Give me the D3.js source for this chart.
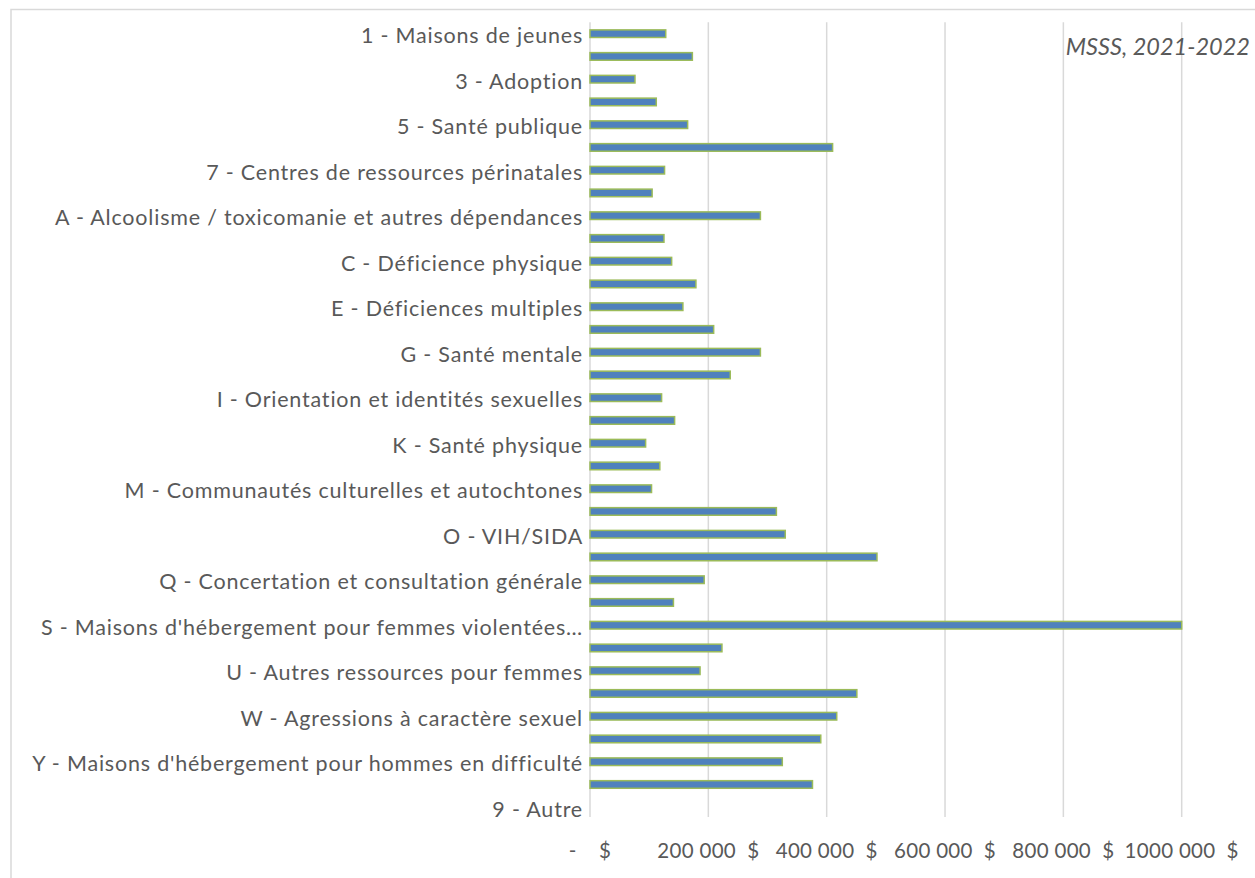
<!DOCTYPE html>
<html>
<head>
<meta charset="utf-8">
<script src="https://cdn.jsdelivr.net/npm/d3@7"></script>
<style>
  html, body { margin: 0; padding: 0; background: #ffffff; }
  svg { display: block; }
  text { font-family: Lato, "Open Sans", sans-serif; fill: #595959; }
</style>
</head>
<body>
<svg id="chart" width="1255" height="878"></svg>
<script>
// Categories (PSOC typology codes); only every other label fits on the axis
const categories = [
  "1 - Maisons de jeunes", "2", "3 - Adoption", "4", "5 - Santé publique", "6",
  "7 - Centres de ressources périnatales", "8",
  "A - Alcoolisme / toxicomanie et autres dépendances", "B",
  "C - Déficience physique", "D", "E - Déficiences multiples", "F",
  "G - Santé mentale", "H", "I - Orientation et identités sexuelles", "J",
  "K - Santé physique", "L", "M - Communautés culturelles et autochtones", "N",
  "O - VIH/SIDA", "P", "Q - Concertation et consultation générale", "R",
  "S - Maisons d'hébergement pour femmes violentées ou en difficulté", "T",
  "U - Autres ressources pour femmes", "V", "W - Agressions à caractère sexuel", "X",
  "Y - Maisons d'hébergement pour hommes en difficulté", "Z", "9 - Autre"
];

// Funding per category ($)
const amounts = [
  128000, 173000, 76000, 112000, 165000, 410000, 126000, 105000,
  288000, 125000, 138000, 179000, 157000, 209000, 288000, 237000,
  121000, 143000, 94000, 118000, 104000, 315000, 330000, 485000,
  193000, 141000, 1000000, 223000, 186000, 451000, 417000, 390000,
  325000, 376000, 0
];

const tickValues = [0, 200000, 400000, 600000, 800000, 1000000];
const tickLabels = ["-    $", "200 000  $", "400 000  $", "600 000  $", "800 000  $", "1000 000  $"];
const sourceNote = "MSSS, 2021-2022";

const svg = d3.select("#chart");
const W = 1255, H = 878;

// Outer chart frame
svg.append("rect")
  .attr("x", 11).attr("y", 9.5)
  .attr("width", W + 20).attr("height", H + 20)
  .attr("fill", "none")
  .attr("stroke", "#d9d9d9")
  .attr("stroke-width", 1.5);

const plot = { left: 590, right: 1181.7, top: 22.3, bottom: 818.6 };

const x = d3.scaleLinear().domain([0, 1000000]).range([plot.left, plot.right]);
const y = d3.scaleBand().domain(categories).range([plot.top, plot.bottom]).paddingInner(0).paddingOuter(0);

// Vertical gridlines
svg.append("g")
  .selectAll("line")
  .data(tickValues)
  .join("line")
  .attr("x1", d => x(d)).attr("x2", d => x(d))
  .attr("y1", plot.top).attr("y2", 817)
  .attr("stroke", "#d9d9d9")
  .attr("stroke-width", 1.5);

// Bars
const barH = 7.6;
svg.append("g")
  .selectAll("rect")
  .data(categories.map((c, i) => ({ c, v: amounts[i] })).filter(d => d.v > 0))
  .join("rect")
  .attr("x", x(0))
  .attr("y", d => y(d.c) + y.bandwidth() / 2 - barH / 2)
  .attr("width", d => x(d.v) - x(0))
  .attr("height", barH)
  .attr("fill", "#4f81bd")
  .attr("stroke", "#9bbb59")
  .attr("stroke-width", 1.5);

// Category labels (every other one); long ones are cut at a word and end with an ellipsis
const labelRight = 583, labelMaxW = 556;
const catG = svg.append("g");
categories.forEach((c, i) => {
  if (i % 2 !== 0) return;
  const t = catG.append("text")
    .attr("x", labelRight)
    .attr("y", y(c) + y.bandwidth() / 2)
    .attr("dy", "0.44em")
    .attr("text-anchor", "end")
    .attr("font-size", 21.5)
    .attr("letter-spacing", 0.8)
    .text(c);
  let words = c.split(" ");
  while (t.node().getComputedTextLength() > labelMaxW && words.length > 1) {
    words = words.slice(0, -1);
    t.text(words.join(" ") + "…");
  }
});

// X axis tick labels
svg.append("g")
  .selectAll("text")
  .data(tickValues)
  .join("text")
  .attr("x", d => x(d))
  .attr("y", 858)
  .attr("text-anchor", "middle")
  .attr("font-size", 20.5)
  .attr("letter-spacing", 0.3)
  .style("white-space", "pre")
  .attr("xml:space", "preserve")
  .text((d, i) => tickLabels[i]);

// Source note
svg.append("text")
  .attr("x", 1250)
  .attr("y", 55)
  .attr("text-anchor", "end")
  .attr("font-size", 23.5)
  .attr("font-style", "italic")
  .text(sourceNote);
</script>
</body>
</html>
